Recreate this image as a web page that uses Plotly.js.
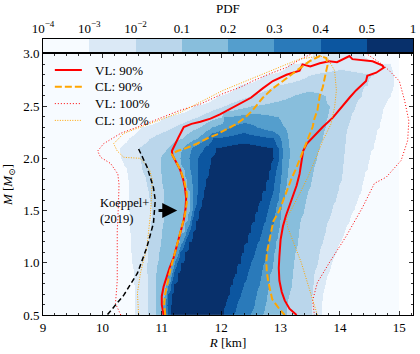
<!DOCTYPE html>
<html>
<head>
<meta charset="utf-8">
<script src="https://cdn.plot.ly/plotly-3.0.1.min.js"></script>
<style>
  html, body { margin: 0; padding: 0; background: #fff; }
  #plot { width: 420px; height: 354px; }
</style>
</head>
<body>
<div id="plot"></div>
<script>
// PDF bands (index 0..7) and their colours
var bandColors = ['#f7fbff', '#dbe9f6', '#bad6eb', '#88bedc', '#549ecd', '#2a7aba', '#0c56a0', '#08306b'];
var pdfTickText = ['10<sup>−4</sup>', '10<sup>−3</sup>', '10<sup>−2</sup>', '0.1', '0.2', '0.3', '0.4', '0.5', '1'];

// mass rows of the histogram (M_sun)
var massRows = [0.5, 0.6, 0.7, 0.8, 0.9, 1.0, 1.1, 1.2, 1.3, 1.4, 1.5, 1.6, 1.7,
                1.8, 1.9, 2.0, 2.1, 2.2, 2.3, 2.4, 2.5, 2.6, 2.7, 2.8, 2.9, 3.0];

// left / right radius (km) of each PDF band on every mass row
var level1Left  = [10.54, 10.54, 10.54, 10.53, 10.52, 10.5, 10.49, 10.48, 10.47, 10.46, 10.45, 10.45, 10.44, 10.43, 10.4, 10.3, 10.28, 10.45, 10.65, 11.05, 11.55, 11.95, 12.3, 12.72, 13.15, 13.55];
var level1Right = [13.68, 13.68, 13.7, 13.75, 13.8, 13.86, 13.93, 14.0, 14.08, 14.15, 14.22, 14.3, 14.35, 14.4, 14.45, 14.5, 14.55, 14.6, 14.65, 14.7, 14.75, 14.85, 14.9, 14.9, 14.85, 14.4];
var level2Left  = [10.77, 10.77, 10.77, 10.76, 10.75, 10.75, 10.76, 10.78, 10.8, 10.81, 10.82, 10.8, 10.77, 10.72, 10.67, 10.62, 10.6, 10.8, 11.2, 11.6, 12.05, 12.5, 12.95, 13.5, null, null];
var level2Right = [13.52, 13.52, 13.53, 13.55, 13.57, 13.62, 13.66, 13.7, 13.75, 13.8, 13.86, 13.92, 13.97, 14.02, 14.04, 14.06, 14.08, 14.1, 14.12, 14.18, 14.25, 14.35, 14.45, 14.55, null, null];
var level3Left  = [10.91, 10.9, 10.9, 10.9, 10.91, 10.92, 10.95, 10.98, 11.0, 11.02, 11.03, 11.03, 11.02, 11.0, 10.98, 10.98, 11.1, 11.35, 11.65, 12.0, 12.5, 13.2, null, null, null, null];
var level3Right = [13.1, 13.1, 13.15, 13.18, 13.2, 13.22, 13.25, 13.28, 13.3, 13.33, 13.38, 13.42, 13.47, 13.52, 13.56, 13.6, 13.65, 13.7, 13.75, 13.8, 13.82, 13.75, null, null, null, null];
var level4Left  = [11.04, 11.02, 11.04, 11.08, 11.13, 11.18, 11.24, 11.3, 11.37, 11.43, 11.47, 11.47, 11.45, 11.42, 11.37, 11.31, 11.35, 11.6, 11.85, 12.05, null, null, null, null, null, null];
var level4Right = [12.7, 12.73, 12.77, 12.8, 12.83, 12.86, 12.89, 12.92, 12.95, 12.98, 13.0, 13.03, 13.06, 13.1, 13.12, 13.15, 13.15, 13.12, 13.05, 12.95, null, null, null, null, null, null];
var level5Left  = [11.07, 11.06, 11.08, 11.12, 11.17, 11.22, 11.28, 11.34, 11.41, 11.47, 11.51, 11.52, 11.52, 11.5, 11.47, 11.45, 11.5, 11.75, 12.15, null, null, null, null, null, null, null];
var level5Right = [12.5, 12.55, 12.6, 12.64, 12.68, 12.72, 12.76, 12.8, 12.84, 12.88, 12.92, 12.95, 12.98, 13.0, 13.02, 13.03, 13.03, 13.0, 12.6, null, null, null, null, null, null, null];
var level6Left  = [11.1, 11.09, 11.11, 11.15, 11.2, 11.25, 11.31, 11.38, 11.45, 11.5, 11.55, 11.58, 11.6, 11.6, 11.6, 11.6, 11.7, 11.87, null, null, null, null, null, null, null, null];
var level6Right = [12.2, 12.26, 12.32, 12.38, 12.44, 12.5, 12.56, 12.62, 12.68, 12.73, 12.78, 12.83, 12.87, 12.9, 12.93, 12.96, 12.95, 12.88, null, null, null, null, null, null, null, null];
var level7Left  = [11.14, 11.14, 11.16, 11.2, 11.26, 11.32, 11.38, 11.45, 11.52, 11.57, 11.62, 11.66, 11.7, 11.74, 11.78, 11.82, 11.9, null, null, null, null, null, null, null, null, null];
var level7Right = [12.03, 12.08, 12.13, 12.19, 12.25, 12.31, 12.37, 12.43, 12.49, 12.55, 12.61, 12.67, 12.73, 12.79, 12.84, 12.88, 12.86, null, null, null, null, null, null, null, null, null];

// contours: VL / CL credible regions
var vl90R = [11.03, 11.0, 11.0, 11.03, 11.08, 11.13, 11.2, 11.26, 11.32, 11.37, 11.4, 11.41, 11.39, 11.36, 11.31, 11.24, 11.18, 11.17, 11.21, 11.28, 11.37,
             11.5, 11.65, 11.82, 11.98, 12.15, 12.32, 12.5, 12.7, 12.87, 13.1, 13.2, 13.32, 13.37, 13.5, 13.66, 13.82, 13.95, 14.16, 14.21, 14.4, 14.55, 14.71, 14.74,
             14.61, 14.46, 14.44, 14.38, 14.27, 14.16, 14.04, 13.88, 13.71, 13.54, 13.44, 13.38, 13.35, 13.32, 13.27, 13.2, 13.15, 13.09, 13.04, 13.0, 12.98, 12.97, 12.98, 13.02, 13.07, 13.15, 13.27];
var vl90M = [0.5, 0.6, 0.68, 0.77, 0.86, 0.95, 1.05, 1.17, 1.29, 1.41, 1.52, 1.62, 1.72, 1.8, 1.89, 1.97, 2.03, 2.07, 2.12, 2.2, 2.3,
             2.33, 2.35, 2.38, 2.42, 2.47, 2.52, 2.58, 2.67, 2.74, 2.8, 2.82, 2.84, 2.9, 2.88, 2.91, 2.93, 2.92, 2.98, 2.95, 2.94, 2.93, 2.89, 2.87,
             2.82, 2.79, 2.74, 2.71, 2.65, 2.58, 2.5, 2.39, 2.3, 2.2, 2.14, 2.07, 1.95, 1.85, 1.74, 1.63, 1.55, 1.45, 1.35, 1.22, 1.06, 0.95, 0.83, 0.72, 0.64, 0.56, 0.5];

var cl90R = [11.06, 11.04, 11.05, 11.09, 11.14, 11.2, 11.27, 11.34, 11.39, 11.42, 11.42, 11.38, 11.32, 11.24, 11.18, 11.17,
             11.26, 11.42, 11.59, 11.76, 11.93, 12.1, 12.26, 12.4, 12.53, 12.7, 12.87, 13.04, 13.15, 13.27, 13.49, 13.66, 13.77, 13.79,
             13.77, 13.74, 13.71, 13.66, 13.62, 13.57, 13.54, 13.47, 13.43, 13.37, 13.32, 13.26, 13.18, 13.08, 12.98, 12.88, 12.8, 12.77, 12.76, 12.77, 12.8, 12.86, 12.99, 13.07];
var cl90M = [0.5, 0.6, 0.68, 0.8, 0.92, 1.05, 1.2, 1.34, 1.46, 1.57, 1.67, 1.78, 1.88, 1.97, 2.02, 2.04,
             2.07, 2.1, 2.14, 2.19, 2.23, 2.28, 2.33, 2.39, 2.46, 2.58, 2.67, 2.74, 2.79, 2.84, 2.93, 2.98, 2.96, 2.89,
             2.84, 2.77, 2.68, 2.6, 2.46, 2.38, 2.3, 2.2, 2.14, 2.05, 1.98, 1.9, 1.8, 1.65, 1.5, 1.4, 1.2, 1.1, 1.0, 0.9, 0.8, 0.65, 0.55, 0.5];

var vl100R = [10.31, 10.22, 10.24, 10.25, 10.25, 10.25, 10.27, 10.28, 10.26, 10.14, 9.97, 9.92, 10.02, 10.31, 10.64, 10.98, 11.31, 11.65, 12.03, 12.32, 12.53, 12.82, 13.1, 13.37, 13.6,
              14.4, 14.71, 14.83, 15.0, 15.09, 15.16, 15.14, 15.03, 14.78, 14.58, 14.38, 14.1, 13.82, 13.62, 13.54, 13.57];
var vl100M = [0.5, 0.61, 0.75, 0.83, 1.0, 1.31, 1.55, 1.75, 1.85, 1.95, 2.01, 2.07, 2.14, 2.24, 2.31, 2.39, 2.46, 2.52, 2.62, 2.68, 2.74, 2.81, 2.87, 2.96, 3.02,
              3.02, 2.9, 2.84, 2.74, 2.55, 2.36, 2.17, 1.98, 1.82, 1.76, 1.53, 1.25, 1.0, 0.81, 0.64, 0.5];

var cl100R = [10.61, 10.59, 10.64, 10.75, 10.81, 10.84, 10.8, 10.73, 10.64, 10.36, 10.25, 10.19, 10.36, 10.64, 11.31, 12.03, 12.53, 13.1, 13.32, 13.66,
              13.79, 13.91, 13.94, 13.91, 13.85, 13.71, 13.6, 13.46, 13.32, 13.18, 13.1, 13.12, 13.18, 13.35, 13.49, 13.6, 13.62];
var cl100M = [0.5, 0.71, 0.9, 1.15, 1.47, 1.79, 1.88, 1.94, 2.0, 2.01, 2.07, 2.14, 2.24, 2.3, 2.44, 2.65, 2.77, 2.9, 2.95, 2.98,
              2.96, 2.84, 2.65, 2.49, 2.33, 2.17, 2.01, 1.82, 1.66, 1.5, 1.42, 1.34, 1.25, 1.0, 0.74, 0.52, 0.5];

// Koeppel+ (2019) lower bound
var koeppelR = [10.61, 10.75, 10.86, 10.89, 10.86, 10.75, 10.59, 10.36, 10.08];
var koeppelM = [2.09, 1.92, 1.72, 1.6, 1.38, 1.15, 0.9, 0.69, 0.5];
var arrowFrom = [10.92, 1.5];
var arrowTo = [11.26, 1.5];

// legend entries
var legendNames = ['VL: 90%', 'CL: 90%', 'VL: 100%', 'CL: 100%'];

// radius bins of the histogram
var radiusCenters = [];
for (var i = 0; i < 300; i++) radiusCenters.push(+(9.01 + 0.02 * i).toFixed(3));

var bandLeft = [level1Left, level2Left, level3Left, level4Left, level5Left, level6Left, level7Left];
var bandRight = [level1Right, level2Right, level3Right, level4Right, level5Right, level6Right, level7Right];

// each row becomes a ramp that crosses band k-0.5 exactly at the band edges,
// so that the smoothed heatmap keeps the band outlines continuous between rows
function rowAnchors(row) {
    var lefts = [], rights = [];
    for (var k = 0; k < bandLeft.length; k++) {
        if (bandLeft[k][row] === null) break;
        lefts.push([bandLeft[k][row], k + 0.5]);
        rights.unshift([bandRight[k][row], k + 0.5]);
    }
    if (!lefts.length) return [];
    var top = lefts.length;
    var mid = (lefts[top - 1][0] + rights[0][0]) / 2;
    return [[lefts[0][0] - 0.25, -0.5]].concat(lefts, [[mid, top]], rights, [[rights[rights.length - 1][0] + 0.25, -0.5]]);
}

function rampAt(anchors, r) {
    if (!anchors.length || r <= anchors[0][0] || r >= anchors[anchors.length - 1][0]) return -0.5;
    for (var j = 1; j < anchors.length; j++) {
        if (r <= anchors[j][0]) {
            var a = anchors[j - 1], b = anchors[j];
            return a[1] + (b[1] - a[1]) * (r - a[0]) / (b[0] - a[0]);
        }
    }
    return -0.5;
}

var zBands = massRows.map(function (m, row) {
    var anchors = rowAnchors(row);
    return radiusCenters.map(function (r) { return rampAt(anchors, r); });
});

// discrete colour scale, one step per band
var bandScale = [];
bandColors.forEach(function (c, k) {
    bandScale.push([k / bandColors.length, c]);
    bandScale.push([(k + 1) / bandColors.length, c]);
});

var serif = 'Liberation Serif, DejaVu Serif, serif';

var histTrace = {
    type: 'heatmap', x: radiusCenters, y: massRows, z: zBands,
    colorscale: bandScale, zmin: -0.5, zmax: 7.5, zsmooth: 'best',
    showscale: false, hoverinfo: 'skip', showlegend: false
};

var lineStyles = [
    { color: '#ff0000', width: 2, dash: 'solid' },
    { color: '#ffa500', width: 2, dash: '7px,3px' },
    { color: '#ff0000', width: 1, dash: '1px,2px' },
    { color: '#ffa500', width: 1, dash: '1px,1.5px' }
];

function contour(name, xs, ys, style) {
    return {
        type: 'scatter', mode: 'lines', name: name, x: xs, y: ys,
        line: style, showlegend: false, hoverinfo: 'skip'
    };
}

var barTrace = {
    type: 'heatmap', xaxis: 'x2', yaxis: 'y2',
    x: [0.5, 1.5, 2.5, 3.5, 4.5, 5.5, 6.5, 7.5], y: [0.5], z: [[0, 1, 2, 3, 4, 5, 6, 7]],
    colorscale: bandScale, zmin: -0.5, zmax: 7.5, showscale: false, hoverinfo: 'skip', showlegend: false
};

var data = [
    histTrace,
    contour(legendNames[0], vl90R, vl90M, lineStyles[0]),
    contour(legendNames[1], cl90R, cl90M, lineStyles[1]),
    contour(legendNames[2], vl100R, vl100M, lineStyles[2]),
    contour(legendNames[3], cl100R, cl100M, lineStyles[3]),
    contour('Koeppel+ (2019)', koeppelR, koeppelM, { color: '#000', width: 1.5, dash: '5px,3px' }),
    barTrace
];

// hand-placed legend (rows 16.7 px apart, as in the figure)
var shapes = [], annotations = [];
legendNames.forEach(function (name, k) {
    var yPaper = (315 - (70 + 16.8 * k)) / 276;
    shapes.push({ type: 'line', xref: 'paper', yref: 'paper', x0: 0.032, x1: 0.105, y0: yPaper, y1: yPaper,
                  line: lineStyles[k] });
    annotations.push({ xref: 'paper', yref: 'paper', x: 0.135, y: yPaper, xanchor: 'left', yanchor: 'middle',
                       text: name, showarrow: false, font: { family: serif, size: 13 } });
});

annotations.push(
    { xref: 'paper', yref: 'paper', x: 0.5, y: 1.112, xanchor: 'center', yanchor: 'middle',
      text: 'PDF', showarrow: false, font: { family: serif, size: 13 } },
    { xref: 'x', yref: 'y', x: 9.92, y: 1.5, xanchor: 'left', yanchor: 'middle', align: 'left',
      text: 'Koeppel+<br>(2019)', showarrow: false, font: { family: serif, size: 12.5 } },
    { xref: 'x', yref: 'y', axref: 'x', ayref: 'y', x: arrowTo[0], y: arrowTo[1], ax: arrowFrom[0], ay: arrowFrom[1],
      text: '', showarrow: true, arrowhead: 2, arrowsize: 1, arrowwidth: 3, arrowcolor: '#000' }
);

var axisStyle = {
    showline: true, linecolor: '#000', linewidth: 1, mirror: 'allticks',
    ticks: 'inside', ticklen: 4, tickwidth: 0.8, tickcolor: '#000',
    showgrid: false, zeroline: false
};

var layout = {
    width: 420, height: 354,
    margin: { l: 43, r: 7, t: 39, b: 39 },
    paper_bgcolor: '#fff', plot_bgcolor: '#fff',
    font: { family: serif, size: 13, color: '#000' },
    showlegend: false,
    xaxis: Object.assign({}, axisStyle, {
        domain: [0, 1], anchor: 'y', range: [9, 15.23], tick0: 0, dtick: 1,
        minor: { dtick: 0.2, ticks: 'inside', ticklen: 2, tickcolor: '#000', showgrid: false },
        title: { text: '<i>R</i> [km]', standoff: 3, font: { family: serif, size: 13 } }
    }),
    yaxis: Object.assign({}, axisStyle, {
        domain: [0, 0.946], anchor: 'x', range: [0.5, 3.0], tick0: 0, dtick: 0.5, tickformat: '.1f',
        minor: { dtick: 0.1, ticks: 'inside', ticklen: 2, tickcolor: '#000', showgrid: false },
        title: { text: '<i>M</i> [<i>M</i><sub>⊙</sub>]', standoff: 7, font: { family: serif, size: 13 } }
    }),
    xaxis2: {
        domain: [0, 1], anchor: 'y2', range: [0, 8], side: 'top',
        tickvals: [0, 1, 2, 3, 4, 5, 6, 7, 8], ticktext: pdfTickText, ticks: '',
        showline: true, linecolor: '#000', linewidth: 1, mirror: true,
        showgrid: false, zeroline: false
    },
    yaxis2: {
        domain: [0.952, 1], anchor: 'x2', range: [0, 1],
        showticklabels: false, ticks: '', showline: true, linecolor: '#000', linewidth: 1, mirror: true,
        showgrid: false, zeroline: false
    },
    shapes: shapes,
    annotations: annotations
};

Plotly.newPlot('plot', data, layout, { staticPlot: true, displayModeBar: false });
</script>
</body>
</html>
